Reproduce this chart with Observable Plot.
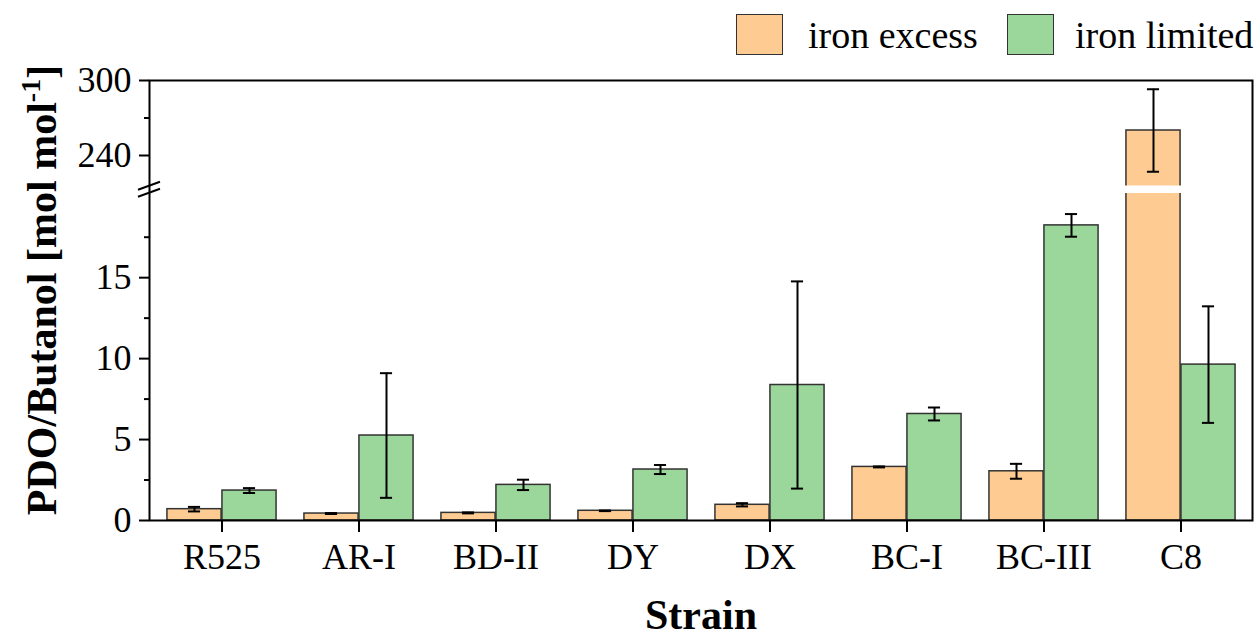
<!DOCTYPE html>
<html>
<head>
<meta charset="utf-8">
<script src="https://cdn.jsdelivr.net/npm/d3@7"></script>
<script src="https://cdn.jsdelivr.net/npm/@observablehq/plot@0.6"></script>
<style>
  body { margin: 0; background: #fff; font-family: "Liberation Serif", "Times New Roman", serif; }
  #legend { position: relative; width: 1256px; height: 60px; }
  .sw { position: absolute; top: 14px; width: 47px; height: 41px; border: 1.5px solid #333; box-sizing: border-box; }
  .lt { position: absolute; top: 15px; font-size: 38px; line-height: 40px; color: #000; white-space: nowrap; }
</style>
</head>
<body>
<div id="legend"></div>
<div id="chart"></div>
<script>
// PDO/Butanol molar ratio per strain under two iron conditions (mean ± error)
const strains = ["R525", "AR-I", "BD-II", "DY", "DX", "BC-I", "BC-III", "C8"];
const excessMean = [0.70, 0.43, 0.47, 0.60, 0.97, 3.31, 3.04, 260];
const excessErr = [0.14, 0.03, 0.03, 0.02, 0.10, 0.03, 0.46, 33];
const limitedMean = [1.85, 5.25, 2.20, 3.15, 8.37, 6.58, 18.23, 9.63];
const limitedErr = [0.15, 3.85, 0.32, 0.28, 6.40, 0.40, 0.70, 3.60];
const conditions = ["iron excess", "iron limited"];
const colors = ["#fecb92", "#9bd69b"];
const majorTicks = [0, 5, 10, 15, 240, 300];
const minorTicks = [2.5, 7.5, 12.5, 17.5, 270];
// broken y axis: lower segment 0–20.2, upper segment 215.6–300
const breakLow = 20.2, breakHigh = 215.6, yMax = 300;

const W = 1256, H = 582;
const mL = 149, mR = 4, mT = 20, mB = 122;
const bw = (W - mL - mR) / strains.length; // band width per strain
const barW = 55, capW = 13;

const excess = strains.map((s, i) => ({strain: s, cond: conditions[0], value: excessMean[i], err: excessErr[i]}));
const limited = strains.map((s, i) => ({strain: s, cond: conditions[1], value: limitedMean[i], err: limitedErr[i]}));

// legend
const legend = document.getElementById("legend");
const legendPos = [{sw: 736, tx: 808}, {sw: 1007, tx: 1075}];
conditions.forEach((c, i) => {
  const sw = document.createElement("div");
  sw.className = "sw";
  sw.style.left = legendPos[i].sw + "px";
  sw.style.background = colors[i];
  legend.appendChild(sw);
  const t = document.createElement("div");
  t.className = "lt";
  t.style.left = legendPos[i].tx + "px";
  t.textContent = c;
  legend.appendChild(t);
});

// bar group offsets: first condition left of the band centre, second right of it
function barInsets(k) {
  return k === 0 ? {insetLeft: bw / 2 - barW, insetRight: bw / 2} : {insetLeft: bw / 2, insetRight: bw / 2 - barW};
}
function capInsets(k) {
  const c = k === 0 ? -barW / 2 : barW / 2;
  return {insetLeft: bw / 2 + c - capW / 2, insetRight: bw / 2 - c - capW / 2};
}

function errorMarks(rows, k) {
  const dx = k === 0 ? -barW / 2 : barW / 2;
  return [
    Plot.ruleX(rows, {x: "strain", y1: d => d.value - d.err, y2: d => d.value + d.err, dx, stroke: "#000", strokeWidth: 2}),
    Plot.tickY(rows, {x: "strain", y: d => d.value + d.err, stroke: "#000", strokeWidth: 2, ...capInsets(k)}),
    Plot.tickY(rows, {x: "strain", y: d => d.value - d.err, stroke: "#000", strokeWidth: 2, ...capInsets(k)})
  ];
}

// white gap through any bar that crosses the axis break
function gapMark(rows, k) {
  const ins = barInsets(k);
  return Plot.barY(rows.filter(d => d.value > breakHigh), {
    x: "strain", y1: () => breakLow, y2: () => breakHigh, fill: "#fff",
    insetLeft: ins.insetLeft - 2, insetRight: ins.insetRight - 2
  });
}

// the "//" symbol on the y axis at the break
function breakSymbol(index, scales, values, dimensions) {
  const g = d3.create("svg:g");
  const x0 = dimensions.marginLeft;
  const yc = (scales.y(breakLow) + scales.y(breakHigh)) / 2;
  for (const off of [-3.5, 3.5]) {
    g.append("line")
      .attr("x1", x0 - 11).attr("y1", yc + off + 4)
      .attr("x2", x0 + 11).attr("y2", yc + off - 4)
      .attr("stroke", "#000").attr("stroke-width", 2);
  }
  return g.node();
}

const chart = Plot.plot({
  width: W, height: H,
  marginLeft: mL, marginRight: mR, marginTop: mT, marginBottom: mB,
  style: {fontFamily: "'Liberation Serif', 'Times New Roman', serif", color: "#000", background: "#fff"},
  x: {type: "band", domain: strains, padding: 0},
  y: {type: "linear", domain: [0, breakLow, breakHigh, yMax], range: [H - mB, 133, 125.5, mT]},
  marks: [
    Plot.barY(excess, {x: "strain", y: "value", fill: colors[0], stroke: "#333", strokeWidth: 1.5, ...barInsets(0)}),
    Plot.barY(limited, {x: "strain", y: "value", fill: colors[1], stroke: "#333", strokeWidth: 1.5, ...barInsets(1)}),
    gapMark(excess, 0),
    gapMark(limited, 1),
    ...errorMarks(excess, 0),
    ...errorMarks(limited, 1),
    Plot.frame({stroke: "#000", strokeWidth: 2}),
    Plot.axisY({ticks: majorTicks, tickSize: 10, tickPadding: 8, tickFormat: d => String(d), fontSize: 36, label: null, strokeWidth: 2}),
    Plot.axisY({ticks: minorTicks, tickSize: 5, text: null, label: null, strokeWidth: 2}),
    Plot.axisX({tickSize: 12, tickPadding: 11, fontSize: 36, label: null, strokeWidth: 2}),
    Plot.text(["Strain"], {frameAnchor: "bottom", dy: 108, fontSize: 42, fontWeight: "bold", lineAnchor: "bottom", text: d => d}),
    breakSymbol
  ]
});

// y axis title with superscript exponent
const title = d3.select(chart).append("text")
  .attr("transform", `translate(56, ${(mT + (H - mB)) / 2 - 10}) rotate(-90)`)
  .attr("text-anchor", "middle")
  .attr("font-size", 42)
  .attr("font-weight", "bold")
  .attr("fill", "#000");
title.append("tspan").text("PDO/Butanol [mol mol");
title.append("tspan").attr("font-size", 28).attr("dy", -16).text("-1");
title.append("tspan").attr("dy", 16).text("]");

document.getElementById("chart").appendChild(chart);
</script>
</body>
</html>
